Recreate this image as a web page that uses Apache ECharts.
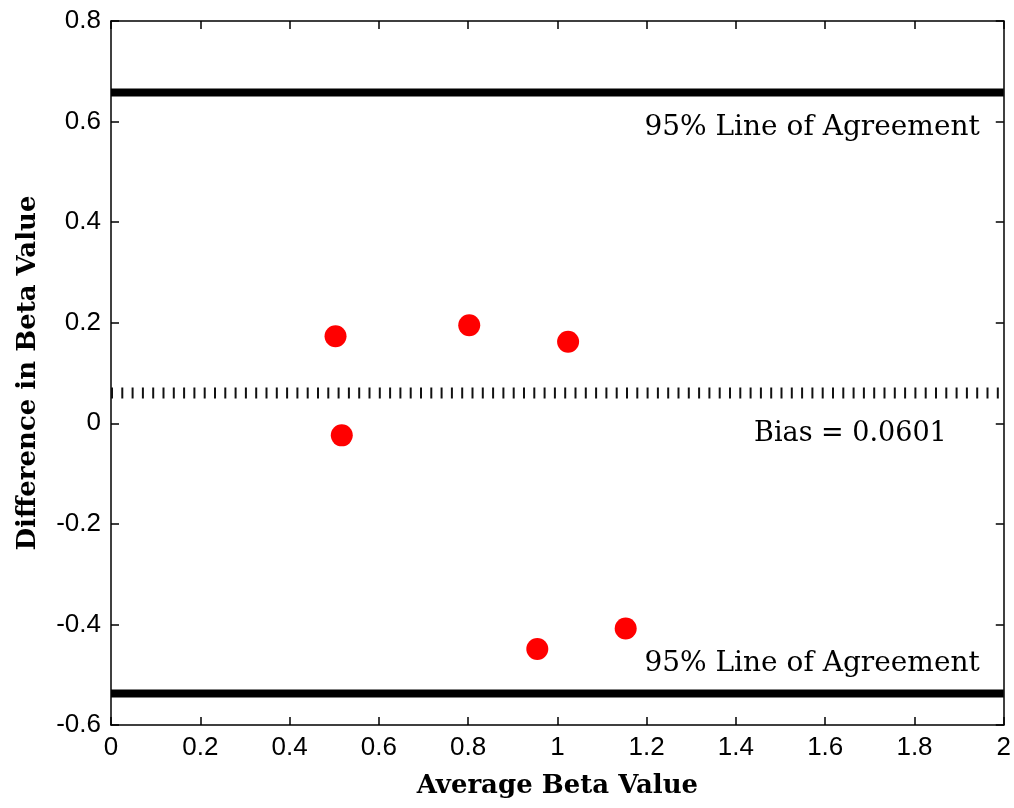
<!DOCTYPE html>
<html>
<head>
<meta charset="utf-8">
<script src="https://cdn.jsdelivr.net/npm/echarts@6/dist/echarts.min.js"></script>
<style>
  html, body { margin: 0; padding: 0; background: #fff; }
  #chart { width: 1014px; height: 808px; }
</style>
</head>
<body>
<div id="chart"></div>
<script>
// Bland-Altman plot: difference vs. average of two beta measurements
const averageBeta = [0.503, 0.517, 0.8025, 1.024, 0.955, 1.153];
const differenceBeta = [0.173, -0.024, 0.195, 0.162, -0.449, -0.408];

const bias = 0.0601;
const upperLimit = 0.6576;
const lowerLimit = -0.5374;

const xTicks = [0, 0.2, 0.4, 0.6, 0.8, 1, 1.2, 1.4, 1.6, 1.8, 2];
const yTicks = [-0.6, -0.4, -0.2, 0, 0.2, 0.4, 0.6, 0.8];

const limitLabel = '95% Line of Agreement';
const biasLabel = 'Bias = ' + bias.toFixed(4);
const xTitle = 'Average Beta Value';
const yTitle = 'Difference in Beta Value';

const points = averageBeta.map((x, i) => [x, differenceBeta[i]]);
const xMin = xTicks[0], xMax = xTicks[xTicks.length - 1];
const yMin = yTicks[0], yMax = yTicks[yTicks.length - 1];

const tickFont = { fontFamily: 'Liberation Sans', fontSize: 26, color: '#000' };
const serif = 'DejaVu Serif';

function fmt(v) {
  return String(Math.round(v * 10) / 10);
}

const axisBase = {
  type: 'value',
  interval: 0.2,
  axisLine: { show: true, onZero: false, lineStyle: { color: '#000', width: 1.5 } },
  axisTick: { show: true, inside: true, length: 8, lineStyle: { color: '#000', width: 1.5 } },
  splitLine: { show: false }
};

// invisible reference line that only carries a text label
function labelLine(value, text, position, distance, size) {
  return {
    symbol: 'none', silent: true,
    lineStyle: { color: 'rgba(0,0,0,0)', width: 0 },
    label: {
      show: true, position: position, distance: distance,
      formatter: text, fontFamily: serif, fontSize: size, color: '#000'
    },
    data: [{ yAxis: value }]
  };
}

const chart = echarts.init(document.getElementById('chart'), null, { renderer: 'canvas' });

chart.setOption({
  animation: false,
  backgroundColor: '#fff',
  grid: { left: 111, right: 10, top: 21, bottom: 83 },
  xAxis: [
    Object.assign({}, axisBase, {
      min: xMin, max: xMax, position: 'bottom',
      axisLabel: Object.assign({ margin: 10, formatter: fmt }, tickFont),
      name: xTitle, nameLocation: 'middle', nameGap: 48,
      nameTextStyle: { fontFamily: serif, fontWeight: 'bold', fontSize: 26, color: '#000' }
    }),
    Object.assign({}, axisBase, {
      min: xMin, max: xMax, position: 'top', axisLabel: { show: false }
    })
  ],
  yAxis: [
    Object.assign({}, axisBase, {
      min: yMin, max: yMax, position: 'left',
      axisLabel: Object.assign({ margin: 10, formatter: fmt }, tickFont),
      name: yTitle, nameLocation: 'middle', nameGap: 70,
      nameTextStyle: { fontFamily: serif, fontWeight: 'bold', fontSize: 26, color: '#000' }
    }),
    Object.assign({}, axisBase, {
      min: yMin, max: yMax, position: 'right', axisLabel: { show: false }
    })
  ],
  series: [
    {
      name: 'Upper limit',
      type: 'line',
      data: [[xMin, upperLimit], [xMax, upperLimit]],
      symbol: 'none',
      lineStyle: { color: '#000', width: 8 },
      markLine: labelLine(upperLimit, limitLabel, 'insideEndBottom', [24, 22], 28)
    },
    {
      name: 'Lower limit',
      type: 'line',
      data: [[xMin, lowerLimit], [xMax, lowerLimit]],
      symbol: 'none',
      lineStyle: { color: '#000', width: 8 },
      markLine: labelLine(lowerLimit, limitLabel, 'insideEndTop', [24, 17], 28)
    },
    {
      name: 'Bias',
      type: 'line',
      data: [[xMin, bias], [xMax, bias]],
      symbol: 'none',
      lineStyle: { color: '#111', width: 11, type: [2, 8.3], cap: 'butt' },
      markLine: labelLine(bias, biasLabel, 'insideEndBottom', [57, 27], 27)
    },
    {
      name: 'Measurements',
      type: 'scatter',
      data: points,
      symbol: 'circle',
      symbolSize: 22,
      itemStyle: { color: '#ff0000', opacity: 1 },
      z: 5
    }
  ]
});
</script>
</body>
</html>
